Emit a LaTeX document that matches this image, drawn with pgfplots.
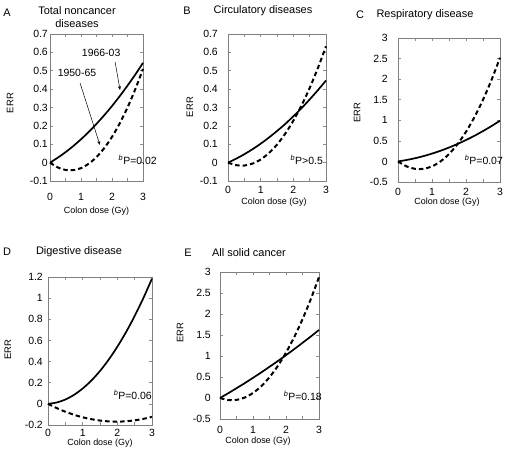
\documentclass[border=0pt]{standalone}
\usepackage{pgfplots}
\pgfplotsset{compat=1.18}
\usepackage{fontspec}
\setmainfont{Liberation Sans}
\usetikzlibrary{arrows.meta}
\newcommand{\tf}{\fontsize{10.5}{12}\selectfont}
\newcommand{\hf}{\fontsize{11}{13}\selectfont}
\pgfplotsset{
 panel/.style={
  scale only axis, anchor=south west,
  xmin=0, xmax=3, xtick={0,1,2,3}, minor xtick={0.5,1.5,2.5},
  tick align=inside, major tick length=3bp, minor tick length=3bp,
  every tick/.style={black!45, line width=0.6bp},
  axis line style={black!50, line width=0.8bp},
  /pgf/number format/assume math mode=true,
  /pgf/number format/fixed,
  ticklabel style={font=\tf, inner sep=0pt},
  yticklabel style={anchor=east},
  xticklabel style={anchor=center},
  ylabel=ERR, xlabel={Colon dose (Gy)},
  xlabel style={font=\fontsize{9}{11}\selectfont, anchor=center, inner sep=0pt},
  ylabel style={font=\fontsize{9.5}{11}\selectfont, anchor=center, inner sep=0pt},
  clip=false,
 },
 solidc/.style={black, line width=1.7bp, smooth},
 dashc/.style={black, line width=2bp, dash pattern=on 4.5bp off 3bp, smooth},
}
\begin{document}
\begin{tikzpicture}
\path[use as bounding box] (0,0) rectangle (510bp,465bp);
% titles
\node[font=\hf] at (7bp,452bp) {A};
\node[font=\hf] at (77bp,454bp) {Total noncancer};
\node[font=\hf] at (77bp,441bp) {diseases};
\node[font=\hf] at (187bp,454bp) {B};
\node[font=\hf] at (263bp,454bp) {Circulatory diseases};
\node[font=\hf] at (360bp,450bp) {C};
\node[font=\hf] at (425bp,450bp) {Respiratory disease};
\node[font=\hf] at (7bp,213bp) {D};
\node[font=\hf] at (79bp,213bp) {Digestive disease};
\node[font=\hf] at (188bp,212bp) {E};
\node[font=\hf] at (249bp,212bp) {All solid cancer};

% A
\begin{axis}[panel, at={(50bp,284bp)}, width=93bp, height=147bp,
  ymin=-0.1, ymax=0.7, ytick={-0.1,0,...,0.7},
  yticklabel style={xshift=-2bp}, xticklabel style={yshift=-16bp},
  xlabel style={at={(axis description cs:0.5,-0.204)}},
  ylabel style={at={(axis description cs:-0.43,0.53)}}]
\addplot[solidc] coordinates {(0,0) (0.25,0.0267) (0.5,0.0568) (0.75,0.0902) (1,0.127) (1.25,0.167) (1.5,0.211) (1.75,0.258) (2,0.308) (2.25,0.362) (2.5,0.419) (2.75,0.479) (3,0.543)};
\addplot[dashc] coordinates {(0,0) (0.25,-0.026) (0.5,-0.04) (0.75,-0.041) (1,-0.03) (1.25,-0.006) (1.5,0.03) (1.75,0.079) (2,0.14) (2.25,0.214) (2.5,0.3) (2.75,0.399) (3,0.51)};
\node[font=\tf] at (axis cs:1.65,0.597) {1966-03};
\draw[-{Stealth[length=4bp,width=3bp]}, line width=0.5bp] (axis cs:2.1,0.548) -- (axis cs:2.26,0.395);
\node[font=\tf] at (axis cs:0.87,0.49) {1950-65};
\draw[-{Stealth[length=4bp,width=3bp]}, line width=0.5bp] (axis cs:0.97,0.433) -- (axis cs:1.61,0.096);
\node[font=\tf, anchor=east, inner sep=0pt] at (rel axis cs:1.15,0.143) {\textsuperscript{\itshape b}P=0.02};
\end{axis}

% B
\begin{axis}[panel, at={(228bp,284bp)}, width=98bp, height=147bp,
  ymin=-0.1, ymax=0.7, ytick={-0.1,0,...,0.7},
  yticklabel style={xshift=-10bp}, xticklabel style={yshift=-9bp},
  xlabel style={at={(axis description cs:0.47,-0.143)}},
  ylabel style={at={(axis description cs:-0.388,0.503)}}]
\addplot[solidc] coordinates {(0,0) (0.25,0.0214) (0.5,0.0458) (0.75,0.0729) (1,0.103) (1.25,0.136) (1.5,0.172) (1.75,0.210) (2,0.252) (2.25,0.296) (2.5,0.344) (2.75,0.394) (3,0.447)};
\addplot[dashc] coordinates {(0,0) (0.25,-0.0139) (0.5,-0.0158) (0.75,-0.0054) (1,0.017) (1.25,0.0516) (1.5,0.098) (1.75,0.157) (2,0.228) (2.25,0.311) (2.5,0.406) (2.75,0.514) (3,0.633)};
\node[font=\tf, anchor=east, inner sep=0pt] at (rel axis cs:0.97,0.143) {\textsuperscript{\itshape b}P>0.5};
\end{axis}

% C
\begin{axis}[panel, at={(398bp,283bp)}, width=102bp, height=144bp,
  ymin=-0.5, ymax=3, ytick={-0.5,0,...,3},
  yticklabel style={xshift=-10bp}, xticklabel style={yshift=-10bp},
  xlabel style={at={(axis description cs:0.48,-0.139)}},
  ylabel style={at={(axis description cs:-0.40,0.48)}}]
\addplot[solidc] coordinates {(0,0) (0.25,0.0344) (0.5,0.0775) (0.75,0.129) (1,0.19) (1.25,0.259) (1.5,0.338) (1.75,0.424) (2,0.52) (2.25,0.624) (2.5,0.738) (2.75,0.859) (3,0.99)};
\addplot[dashc] coordinates {(0,0) (0.25,-0.12) (0.5,-0.18) (0.75,-0.18) (1,-0.12) (1.25,0.0) (1.5,0.18) (1.75,0.42) (2,0.72) (2.25,1.08) (2.5,1.5) (2.75,1.98) (3,2.52)};
\node[font=\tf, anchor=east, inner sep=0pt] at (rel axis cs:1.03,0.153) {\textsuperscript{\itshape b}P=0.07};
\end{axis}

% D
\begin{axis}[panel, at={(48bp,40bp)}, width=104bp, height=148bp,
  ymin=-0.2, ymax=1.2, ytick={-0.2,0,...,1.2},
  yticklabel style={xshift=-5bp}, xticklabel style={yshift=-8bp},
  xlabel style={at={(axis description cs:0.5,-0.122)}},
  ylabel style={at={(axis description cs:-0.385,0.507)}}]
\addplot[solidc] coordinates {(0,0) (0.25,0.0128) (0.5,0.041) (0.75,0.085) (1,0.145) (1.25,0.22) (1.5,0.311) (1.75,0.418) (2,0.54) (2.25,0.678) (2.5,0.831) (2.75,1.0) (3,1.185)};
\addplot[dashc] coordinates {(0,0) (0.25,-0.0398) (0.5,-0.0743) (0.75,-0.1033) (1,-0.127) (1.25,-0.145) (1.5,-0.158) (1.75,-0.166) (2,-0.168) (2.25,-0.165) (2.5,-0.156) (2.75,-0.142) (3,-0.123)};
\node[font=\tf, anchor=east, inner sep=0pt] at (rel axis cs:1.0,0.203) {\textsuperscript{\itshape b}P=0.06};
\end{axis}

% E
\begin{axis}[panel, at={(220bp,46bp)}, width=99bp, height=147bp,
  ymin=-0.5, ymax=3, ytick={-0.5,0,...,3},
  yticklabel style={xshift=-9bp}, xticklabel style={yshift=-11bp},
  xlabel style={at={(axis description cs:0.384,-0.15)}},
  ylabel style={at={(axis description cs:-0.404,0.585)}}]
\addplot[solidc] coordinates {(0,0) (0.25,0.114) (0.5,0.233) (0.75,0.354) (1,0.48) (1.25,0.609) (1.5,0.743) (1.75,0.879) (2,1.02) (2.25,1.164) (2.5,1.313) (2.75,1.464) (3,1.62)};
\addplot[dashc] coordinates {(0,0) (0.25,-0.049) (0.5,-0.045) (0.75,0.011) (1,0.12) (1.25,0.281) (1.5,0.495) (1.75,0.761) (2,1.08) (2.25,1.451) (2.5,1.875) (2.75,2.351) (3,2.88)};
\node[font=\tf, anchor=east, inner sep=0pt] at (rel axis cs:1.03,0.156) {\textsuperscript{\itshape b}P=0.18};
\end{axis}
\end{tikzpicture}
\end{document}
